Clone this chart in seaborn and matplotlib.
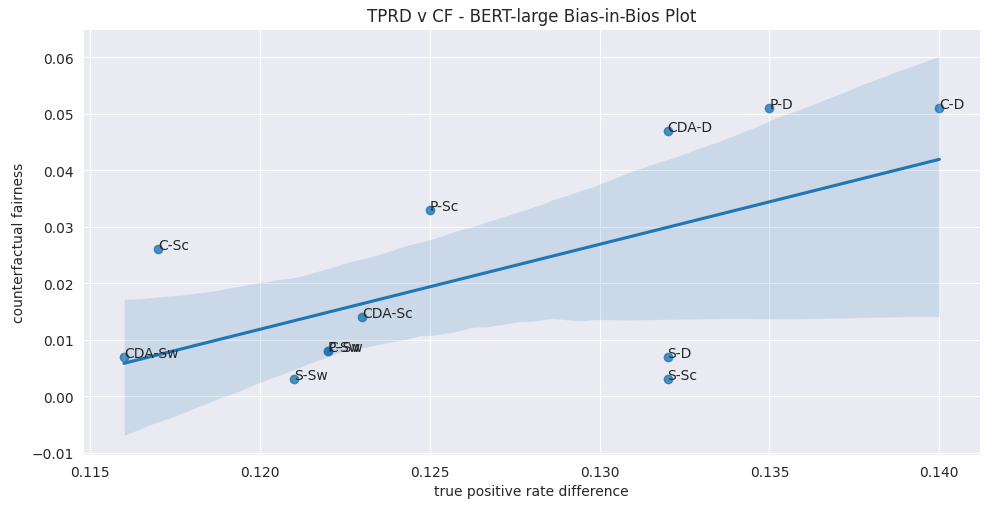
import pandas as pd
import seaborn as sns
from matplotlib import pyplot as plt

labels = ['C-D', 'C-Sc', 'C-Sw', 'P-D', 'P-Sc', 'P-Sw',
          'S-D', 'S-Sc', 'S-Sw', 'CDA-D', 'CDA-Sc', 'CDA-Sw']
tprd = [0.140, 0.117, 0.122, 0.135, 0.125, 0.122,
        0.132, 0.132, 0.121, 0.132, 0.123, 0.116]
cf = [0.051, 0.026, 0.008, 0.051, 0.033, 0.008,
      0.007, 0.003, 0.003, 0.047, 0.014, 0.007]

df = pd.DataFrame({'tprd': tprd, 'cf': cf, 'label': labels})

sns.set_style('darkgrid')
fig, ax = plt.subplots(figsize=(9.9, 5.1), dpi=100)
sns.regplot(x='tprd', y='cf', data=df, ax=ax, seed=7)
for _, row in df.iterrows():
    ax.text(row['tprd'], row['cf'], row['label'], fontsize=10)
ax.set_title('TPRD v CF - BERT-large Bias-in-Bios Plot')
ax.set_xlabel('true positive rate difference')
ax.set_ylabel('counterfactual fairness')
ax.set_ylim(-0.0104, 0.065)
plt.subplots_adjust(left=0.084, right=0.99, top=0.941, bottom=0.106)
plt.savefig('out.png')
